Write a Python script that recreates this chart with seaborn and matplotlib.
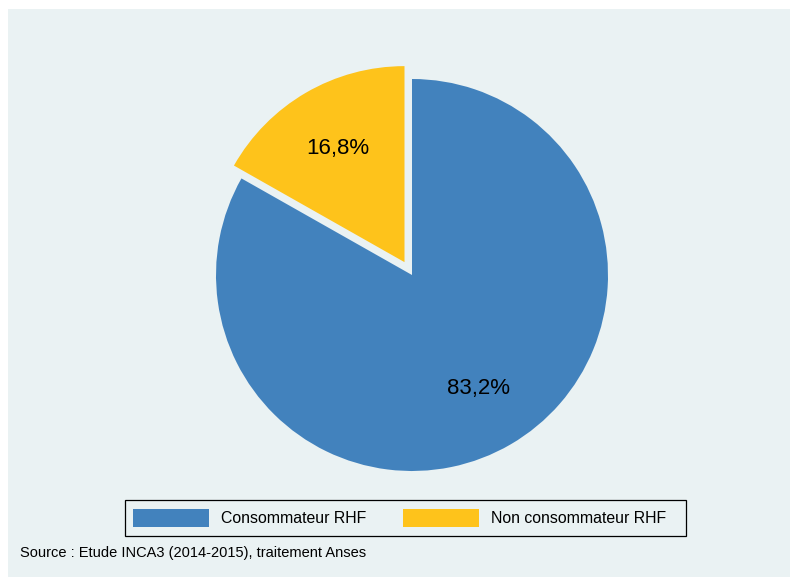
import matplotlib
matplotlib.use("Agg")
import matplotlib.pyplot as plt
import seaborn as sns
from matplotlib.patches import Rectangle, Patch

categories = ["Consommateur RHF", "Non consommateur RHF"]
values = [83.2, 16.8]
colors = ["#4282bd", "#fec31b"]
source = "Source : Etude INCA3 (2014-2015), traitement Anses"

sns.set_style("white")
plt.rcParams["font.family"] = ["Liberation Sans", "DejaVu Sans"]
plt.rcParams["text.color"] = "black"

W, H = 790, 577
fig = plt.figure(figsize=(W / 100, H / 100), dpi=100)
fig.patch.set_facecolor("white")
bg = "#eaf2f3"
fig.patches.append(Rectangle((8 / W, 0), 1 - 8 / W, 1 - 9 / H, transform=fig.transFigure,
                             facecolor=bg, edgecolor="none", zorder=-10))

R = 196.0
cx, cy = 412.0, H - 275.0
half = 1.2 * R
ax = fig.add_axes([(cx - half) / W, (cy - half) / H, 2 * half / W, 2 * half / H])
ax.patch.set_alpha(0)
ax.set_zorder(2)

wedges, texts, autotexts = ax.pie(
    values, colors=colors, startangle=90, counterclock=False,
    explode=[0, 0.076], pctdistance=0.672,
    autopct=lambda p: f"{p:.1f}%".replace(".", ","),
    wedgeprops=dict(linewidth=0), textprops=dict(fontsize=16, color="black"),
    radius=1.0, frame=False,
)
ax.set_xlim(-1.2, 1.2)
ax.set_ylim(-1.2, 1.2)
ax.set_aspect("auto")
ax.axis("off")

# legend frame (drawn as a box spanning the reference legend area)
fig.patches.append(Rectangle((124.7 / W, (H - 536) / H), (686 - 124.7) / W, (536 - 499.7) / H,
                             transform=fig.transFigure, facecolor=bg, edgecolor="black",
                             linewidth=0.9, zorder=1))

handles = [Patch(facecolor=c, edgecolor="none") for c in colors]
leg = fig.legend(handles, categories, loc="center left", ncol=2,
                 bbox_to_anchor=(124.7 / W, (H - 517.9) / H),
                 fontsize=11.4, frameon=False,
                 handlelength=4.8, handleheight=1.33, handletextpad=0.76,
                 columnspacing=2.34, borderpad=0.5, borderaxespad=0)
leg.set_zorder(3)
for t in leg.get_texts():
    t.set_color("black")

fig.text(20 / W, (H - 553) / H, source, fontsize=10.5, va="center", ha="left", color="black")

fig.savefig("out.png", dpi=100, facecolor=fig.get_facecolor())
